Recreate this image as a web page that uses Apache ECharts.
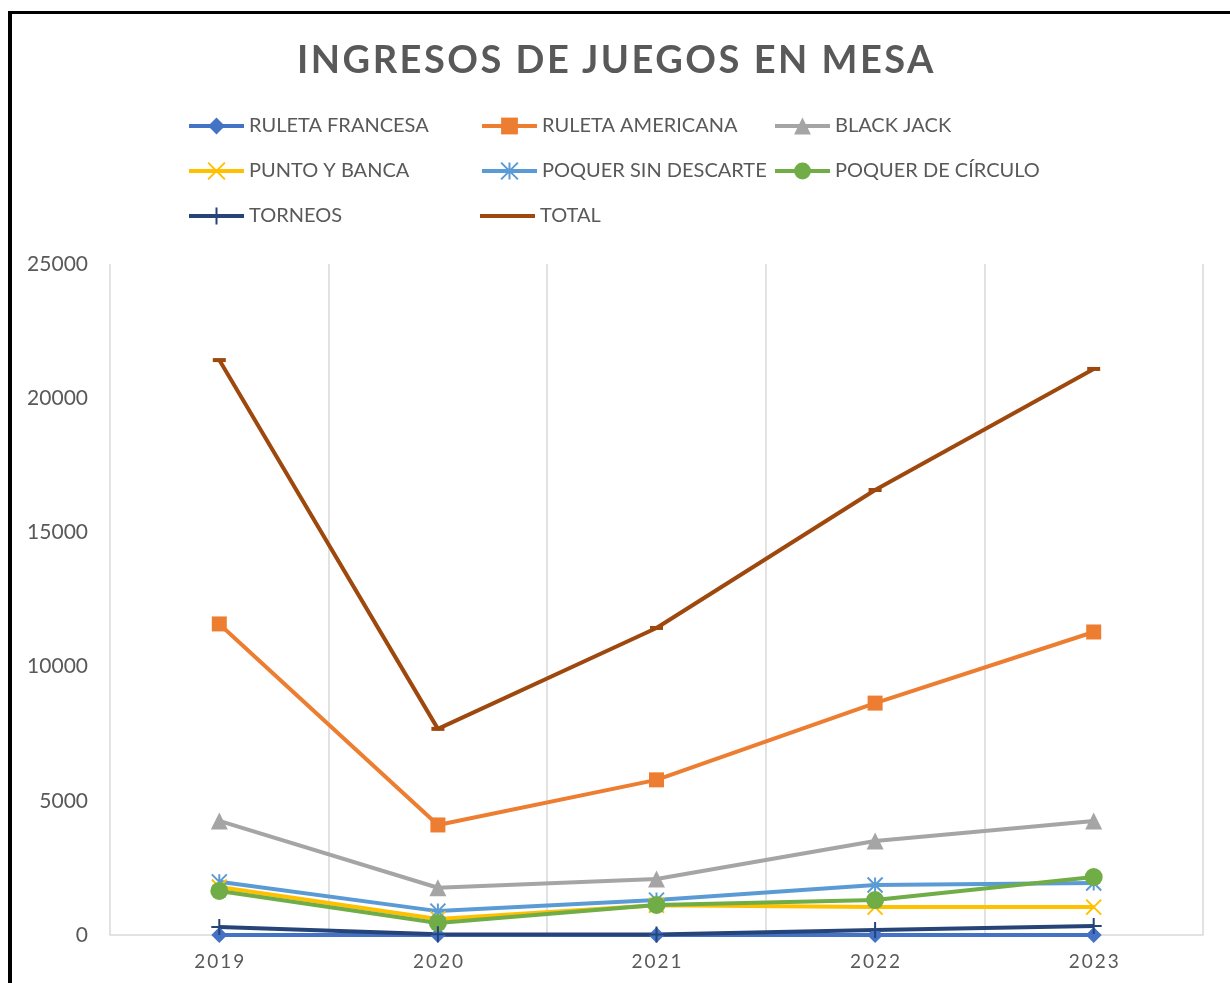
<!DOCTYPE html>
<html>
<head>
<meta charset="utf-8">
<script src="https://cdn.jsdelivr.net/npm/echarts@6/dist/echarts.min.js"></script>
<style>
  html, body { margin: 0; padding: 0; background: #fff; overflow: hidden; }
  #wrap { position: relative; width: 1230px; height: 983px; }
  #frame { position: absolute; left: 8px; top: 11px; width: 1400px; height: 1200px;
           border-left: 4px solid #000; border-top: 3px solid #000; }
  #title { position: absolute; left: 0; top: 35px; width: 1233px; text-align: center;
           font: bold 38px Lato, sans-serif; letter-spacing: 2.5px; color: #595959; }
  #chart { position: absolute; left: 0; top: 0; width: 1230px; height: 983px; }
</style>
</head>
<body>
<div id="wrap">
  <div id="frame"></div>
  <div id="chart"></div>
  <div id="title">INGRESOS DE JUEGOS EN MESA</div>
</div>
<script>
// datos
const years = ['2019', '2020', '2021', '2022', '2023']
const ruletaFrancesa = [0, 0, 0, 0, 0]
const ruletaAmericana = [11590, 4100, 5780, 8640, 11290]
const blackJack = [4250, 1760, 2090, 3500, 4250]
const puntoYBanca = [1790, 600, 1110, 1040, 1040]
const poquerSinDescarte = [1980, 890, 1300, 1860, 1940]
const poquerDeCirculo = [1640, 450, 1120, 1300, 2160]
const torneos = [300, 30, 20, 190, 335]
const total = [21420, 7680, 11440, 16580, 21090]

const chart = echarts.init(document.getElementById('chart'))

const txt = '#595959'
const font = 'Lato'

function serie(name, data, color, symbol, size, stroke) {
    return {
        name: name,
        type: 'line',
        data: data,
        symbol: symbol,
        symbolSize: size,
        showAllSymbol: true,
        lineStyle: { color: color, width: 4 },
        itemStyle: stroke
            ? { color: color, borderColor: color, borderWidth: 2 }
            : { color: color, borderWidth: 0 }
    }
}

chart.setOption({
    animation: false,
    legend: {
        left: 187,
        top: 105,
        width: 900,
        padding: 0,
        itemWidth: 55,
        itemHeight: 21,
        itemGap: 3,
        lineStyle: { width: 4 },
        textStyle: { color: txt, fontFamily: font, fontSize: 20, width: 228, lineHeight: 42 },
        data: ['RULETA FRANCESA', 'RULETA AMERICANA', 'BLACK JACK', 'PUNTO Y BANCA',
            'POQUER SIN DESCARTE', 'POQUER DE CÍRCULO', 'TORNEOS',
            { name: 'TOTAL', icon: 'path://M0,0L55,0L55,4L0,4Z' }]
    },
    grid: { left: 110, right: 27, top: 264, bottom: 48 },
    xAxis: {
        type: 'category',
        data: years,
        boundaryGap: true,
        axisTick: { show: false },
        axisLine: { lineStyle: { color: '#D9D9D9', width: 1.5 } },
        splitLine: { show: true, lineStyle: { color: '#D9D9D9', width: 1.5 } },
        axisLabel: {
            color: txt, fontFamily: font, fontSize: 19, margin: 17,
            formatter: v => v.split('').map(c => '{d|' + c + '}').join(''),
            rich: { d: { width: 13, align: 'center', color: txt, fontFamily: font, fontSize: 19 } }
        }
    },
    yAxis: {
        type: 'value',
        min: 0,
        max: 25000,
        interval: 5000,
        splitLine: { show: false },
        axisLine: { show: false },
        axisLabel: { color: txt, fontFamily: font, fontSize: 21, margin: 22, formatter: v => String(v) }
    },
    series: [
        serie('RULETA FRANCESA', ruletaFrancesa, '#4472C4', 'diamond', 16),
        serie('RULETA AMERICANA', ruletaAmericana, '#ED7D31', 'rect', 15),
        serie('BLACK JACK', blackJack, '#A5A5A5', 'triangle', 17),
        serie('PUNTO Y BANCA', puntoYBanca, '#FFC000', 'path://M0,0L10,10M10,0L0,10', 15, true),
        serie('POQUER SIN DESCARTE', poquerSinDescarte, '#5B9BD5', 'path://M5,0L5,10M0,0L10,10M10,0L0,10', 15, true),
        serie('POQUER DE CÍRCULO', poquerDeCirculo, '#70AD47', 'circle', 18),
        serie('TORNEOS', torneos, '#264478', 'path://M5,0L5,10M0,5L10,5', 16, true),
        serie('TOTAL', total, '#9E480E', 'rect', [13, 4])
    ]
})
</script>
</body>
</html>
